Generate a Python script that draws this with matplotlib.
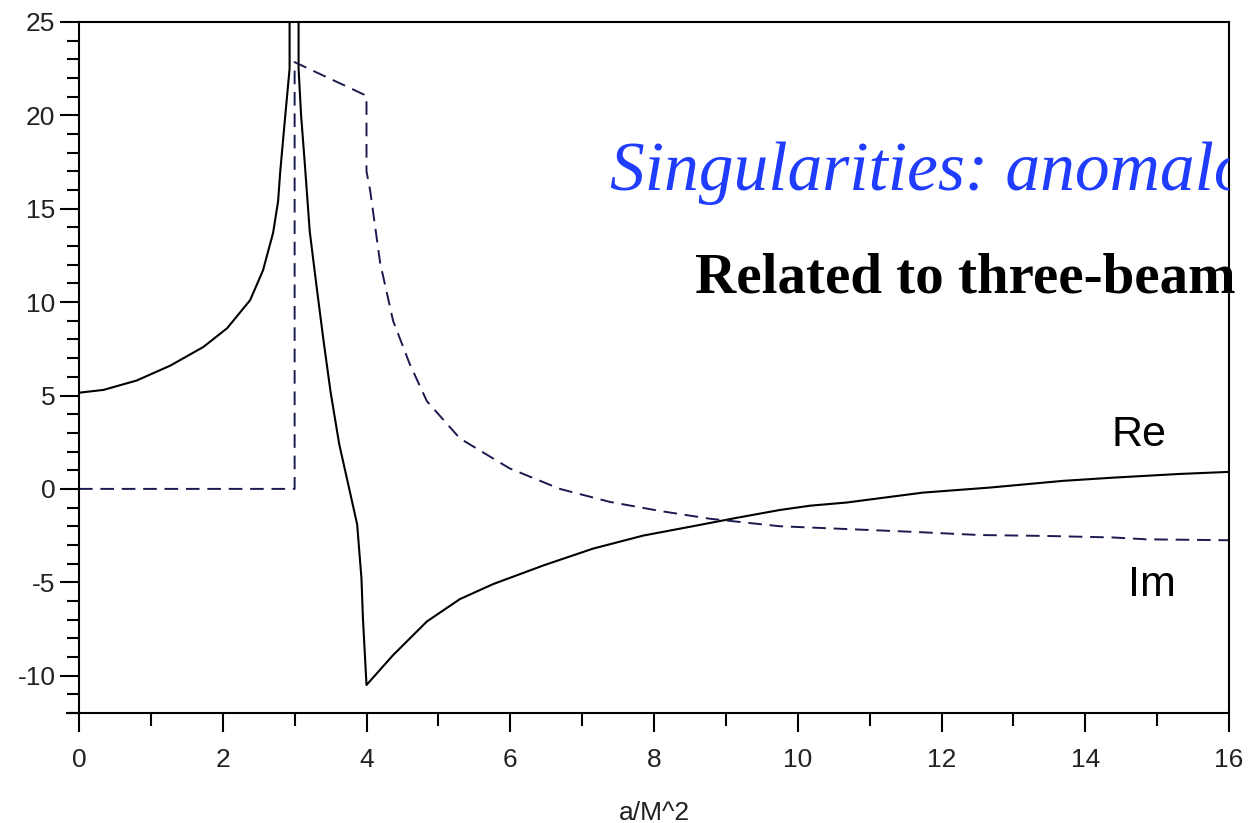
import matplotlib.pyplot as plt
from matplotlib import font_manager

# Re branch below the threshold (goes off the top near a=3)
re_left_x = [0.0, 0.34, 0.8, 1.27, 1.73, 2.06, 2.38, 2.56, 2.70, 2.77, 2.80, 2.87, 2.93, 2.93]
re_left_y = [5.15, 5.3, 5.8, 6.6, 7.6, 8.6, 10.1, 11.7, 13.7, 15.4, 17.0, 20.0, 22.5, 40.0]

# Re branch after a=3
re_right_x = [3.055, 3.055, 3.09, 3.14, 3.21, 3.30, 3.40, 3.50, 3.62, 3.76, 3.87, 3.93, 3.95, 4.0,
              4.37, 4.84, 5.30, 5.76, 6.46, 7.15, 7.85, 8.54, 9.15, 9.75, 10.17, 10.68,
              11.74, 12.67, 13.69, 14.38, 15.31, 16.0]
re_right_y = [40.0, 22.5, 20.0, 17.5, 13.8, 11.0, 8.0, 5.2, 2.4, 0.0, -1.9, -4.8, -6.9, -10.5,
              -8.9, -7.1, -5.9, -5.1, -4.1, -3.2, -2.5, -2.0, -1.55, -1.13, -0.9, -0.73,
              -0.2, 0.07, 0.43, 0.6, 0.8, 0.91]

# Im (dashed)
im_x = [0.0, 3.0, 3.0, 4.0, 4.0, 4.05, 4.19, 4.37, 4.60, 4.84, 5.30, 5.99, 6.69, 7.39,
        8.08, 8.78, 9.75, 10.68, 11.6, 12.53, 13.46, 14.38, 14.85, 16.0]
im_y = [0.0, 0.0, 22.85, 21.05, 17.0, 16.0, 12.1, 9.0, 6.7, 4.7, 2.7, 1.1, 0.0, -0.7,
        -1.18, -1.6, -2.0, -2.15, -2.3, -2.47, -2.52, -2.6, -2.7, -2.75]

x_ticks = list(range(0, 17, 2))
y_ticks = [-10, -5, 0, 5, 10, 15, 20, 25]

plt.rcParams['axes.unicode_minus'] = False

names = {f.name for f in font_manager.fontManager.ttflist}
tick_font = 'Liberation Sans Narrow' if 'Liberation Sans Narrow' in names else 'Liberation Sans'

fig = plt.figure(figsize=(12.51, 8.23), dpi=100)
ax = fig.add_axes([79 / 1251, 1 - 713 / 823, 1150 / 1251, 691 / 823])

ax.plot(re_left_x, re_left_y, color='black', lw=1.5)
ax.plot(re_right_x, re_right_y, color='black', lw=1.5)
ax.plot(im_x, im_y, color='#1a1a50', lw=1.4, dashes=(7, 4))

ax.set_xlim(0, 16)
ax.set_ylim(-12, 25)
ax.set_xticks(x_ticks)
ax.set_xticks(range(1, 16, 2), minor=True)
ax.set_yticks(y_ticks)
ax.set_yticks([v for v in range(-12, 26) if v % 5 != 0], minor=True)

for s in ax.spines.values():
    s.set_linewidth(1.5)
ax.spines['bottom'].set_bounds(-0.17, 16)

ax.tick_params(axis='both', which='major', direction='out', width=1.5, colors='black')
ax.tick_params(axis='x', which='major', length=14, pad=11)
ax.tick_params(axis='x', which='minor', length=9, width=1.5)
ax.tick_params(axis='y', which='major', length=14, pad=3)
ax.tick_params(axis='y', which='minor', length=9, width=1.5)
for lab in ax.get_xticklabels() + ax.get_yticklabels():
    lab.set_fontfamily(tick_font)
    lab.set_fontsize(19)
    lab.set_color('#222222')

ax.set_xlabel('a/M^2', fontfamily=tick_font, fontsize=19, color='#222222', labelpad=21)

ax.text(7.39, 15.98, 'Singularities: anomalous', fontfamily='Liberation Serif', style='italic',
        fontsize=50, color='#1f3cff', va='baseline', ha='left', clip_on=True)
ax.text(8.57, 10.5, 'Related to three-beam', fontfamily='Liberation Serif', fontweight='bold',
        fontsize=41, color='black', va='baseline', ha='left', clip_on=False)
ax.text(14.37, 2.3, 'Re', fontfamily='Liberation Sans', fontsize=31, va='baseline', ha='left')
ax.text(14.59, -5.74, 'Im', fontfamily='Liberation Sans', fontsize=31, va='baseline', ha='left')

fig.savefig('out.png', dpi=100)
